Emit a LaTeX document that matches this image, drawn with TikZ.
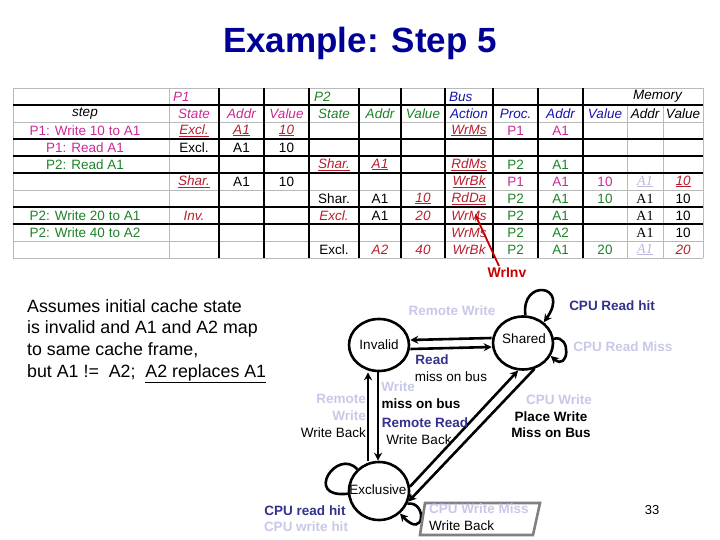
\documentclass[tikz,border=0pt]{standalone}
\usepackage{fontspec}
\setmainfont{Liberation Sans}
\newfontfamily\memserif{Liberation Serif}
\usetikzlibrary{arrows.meta,shapes.geometric}
\definecolor{titleblue}{RGB}{0,0,150}
\definecolor{pone}{RGB}{204,40,150}
\definecolor{ptwo}{RGB}{30,130,40}
\definecolor{busblue}{RGB}{20,20,170}
\definecolor{chgred}{RGB}{185,30,45}
\definecolor{lav}{RGB}{200,200,232}
\definecolor{navy}{RGB}{50,50,140}
\definecolor{fadeA}{RGB}{185,185,220}
\definecolor{arrred}{RGB}{200,0,0}
\newcommand{\tabfont}{\fontsize{13.5}{15}\selectfont}
\newcommand{\lblfont}{\fontsize{13.5}{16}\selectfont}
\newcommand{\tcell}[4][]{\node[tcell,#1] (t-#2-#3) at (cx#2 |- ry#3) {#4};}

\begin{document}
\begin{tikzpicture}[x=1pt,y=-1pt,
  tcell/.style={inner sep=0pt,font=\tabfont},
  hd/.style={font=\tabfont\itshape},
  chg/.style={text=chgred,font=\tabfont\itshape},
  mem/.style={font=\memserif\fontsize{14}{15}\selectfont},
  memfade/.style={text=fadeA,font=\memserif\fontsize{14}{15}\selectfont\itshape},
  gridgray/.style={gray!55,line width=0.9pt},
  gridblack/.style={black,line width=1.8pt},
  state/.style={ellipse,draw,line width=2.6pt,minimum width=60pt,inner sep=0pt,font=\lblfont},
  tarrow/.style={line width=2.6pt,-{Stealth[length=8pt,width=8pt]}},
  lav/.style={text=lav,font=\lblfont\bfseries,inner sep=0pt},
  navy/.style={text=navy,font=\lblfont\bfseries,inner sep=0pt},
  blk/.style={font=\lblfont,inner sep=0pt},
  blkb/.style={font=\lblfont\bfseries,inner sep=0pt}]
  \useasboundingbox (0,0) rectangle (720,540);

  \node[font=\fontsize{35}{40}\selectfont\bfseries,text=titleblue] (title) at (360,43) {Example: Step 5};

  % table grid
  \foreach \i/\x in {1/85,2/194,3/241.5,4/286.5,5/334,6/380,7/423,8/469,9/515.5,10/560.5,11/605,12/645,13/683}
    \coordinate (cx\i) at (\x,0);
  \foreach \j in {1,...,10}
    \coordinate (ry\j) at (0,{79.5+17*\j});
  \foreach \y in {88,122,190,241,258}
    \draw[gridgray] (13,\y) -- (703,\y);
  \foreach \x in {13,169,703}
    \draw[gridgray] (\x,88) -- (\x,258);
  \foreach \x in {627,663}
    \draw[gridgray] (\x,105) -- (\x,258);
  \foreach \y in {105,139,156,173,207,224}
    \draw[gridblack] (13,\y) -- (703,\y);
  \foreach \x in {219,264,309,359,401,445,493,538,583}
    \draw[gridblack] (\x,88) -- (\x,258);

  \node[hd,text=pone,anchor=west,inner sep=0pt] (h-p1) at (173,96.5) {P1};
  \node[hd,text=ptwo,anchor=west,inner sep=0pt] (h-p2) at (314,96.5) {P2};
  \node[hd,text=busblue,anchor=west,inner sep=0pt] (h-bus) at (449,96.5) {Bus};
  \node[hd,anchor=west,inner sep=0pt] (h-mem) at (633,96.5) {Memory};

  \tcell[hd]{1}{2}{step}
  \tcell[hd,text=pone]{2}{2}{State}
  \tcell[hd,text=pone]{3}{2}{Addr}
  \tcell[hd,text=pone]{4}{2}{Value}
  \tcell[hd,text=ptwo]{5}{2}{State}
  \tcell[hd,text=ptwo]{6}{2}{Addr}
  \tcell[hd,text=ptwo]{7}{2}{Value}
  \tcell[hd,text=busblue]{8}{2}{Action}
  \tcell[hd,text=busblue]{9}{2}{Proc.}
  \tcell[hd,text=busblue]{10}{2}{Addr}
  \tcell[hd,text=busblue]{11}{2}{Value}
  \tcell[hd]{12}{2}{Addr}
  \tcell[hd]{13}{2}{Value}

  \tcell[text=pone]{1}{3}{P1: Write 10 to A1}
  \tcell[chg]{2}{3}{\underline{Excl.}}
  \tcell[chg]{3}{3}{\underline{A1}}
  \tcell[chg]{4}{3}{\underline{10}}
  \tcell[chg]{8}{3}{\underline{WrMs}}
  \tcell[text=pone]{9}{3}{P1}
  \tcell[text=pone]{10}{3}{A1}

  \tcell[text=pone]{1}{4}{P1: Read A1}
  \tcell{2}{4}{Excl.}
  \tcell{3}{4}{A1}
  \tcell{4}{4}{10}

  \tcell[text=ptwo]{1}{5}{P2: Read A1}
  \tcell[chg]{5}{5}{\underline{Shar.}}
  \tcell[chg]{6}{5}{\underline{A1}}
  \tcell[chg]{8}{5}{\underline{RdMs}}
  \tcell[text=ptwo]{9}{5}{P2}
  \tcell[text=ptwo]{10}{5}{A1}

  \tcell[chg]{2}{6}{\underline{Shar.}}
  \tcell{3}{6}{A1}
  \tcell{4}{6}{10}
  \tcell[chg]{8}{6}{\underline{WrBk}}
  \tcell[text=pone]{9}{6}{P1}
  \tcell[text=pone]{10}{6}{A1}
  \tcell[text=pone]{11}{6}{10}
  \tcell[memfade]{12}{6}{\underline{A1}}
  \tcell[chg]{13}{6}{\underline{10}}

  \tcell{5}{7}{Shar.}
  \tcell{6}{7}{A1}
  \tcell[chg]{7}{7}{\underline{10}}
  \tcell[chg]{8}{7}{\underline{RdDa}}
  \tcell[text=ptwo]{9}{7}{P2}
  \tcell[text=ptwo]{10}{7}{A1}
  \tcell[text=ptwo]{11}{7}{10}
  \tcell[mem]{12}{7}{A1}
  \tcell{13}{7}{10}

  \tcell[text=ptwo]{1}{8}{P2: Write 20 to A1}
  \tcell[chg]{2}{8}{Inv.}
  \tcell[chg]{5}{8}{Excl.}
  \tcell{6}{8}{A1}
  \tcell[chg]{7}{8}{20}
  \tcell[chg]{8}{8}{WrMs}
  \tcell[text=ptwo]{9}{8}{P2}
  \tcell[text=ptwo]{10}{8}{A1}
  \tcell[mem]{12}{8}{A1}
  \tcell{13}{8}{10}

  \tcell[text=ptwo]{1}{9}{P2: Write 40 to A2}
  \tcell[chg]{8}{9}{WrMs}
  \tcell[text=ptwo]{9}{9}{P2}
  \tcell[text=ptwo]{10}{9}{A2}
  \tcell[mem]{12}{9}{A1}
  \tcell{13}{9}{10}

  \tcell{5}{10}{Excl.}
  \tcell[chg]{6}{10}{A2}
  \tcell[chg]{7}{10}{40}
  \tcell[chg]{8}{10}{WrBk}
  \tcell[text=ptwo]{9}{10}{P2}
  \tcell[text=ptwo]{10}{10}{A1}
  \tcell[text=ptwo]{11}{10}{20}
  \tcell[memfade]{12}{10}{\underline{A1}}
  \tcell[chg]{13}{10}{20}

  \node[font=\fontsize{14}{16}\selectfont\bfseries,text=arrred,inner sep=0pt] (wrinv) at (507,273) {WrInv};
  \coordinate (wrms) at (475,214);
  \draw[arrred,line width=1.8pt,-{Stealth[length=7pt]}] ([xshift=-8pt,yshift=2pt]wrinv.north) -- (wrms);

  \node[anchor=north west,align=left,inner sep=0pt,font=\fontsize{17.8}{21.7}\selectfont] (note) at (27,299)
    {Assumes initial cache state\\is invalid and A1 and A2 map\\to same cache frame,\\but A1 !=~~A2;~~\underline{A2 replaces A1}};

  % state diagram
  \node[state,minimum height=52pt] (inv) at (379,345) {Invalid};
  \node[state,minimum height=53pt] (shr) at (523,343) {};
  \node[font=\lblfont,inner sep=0pt] (shrtxt) at (524,339) {Shared};
  \node[state,minimum height=58pt] (exc) at (379,491) {};
  \node[font=\lblfont,inner sep=0pt] (exctxt) at (378,490) {Exclusive};

  \draw[tarrow] ([yshift=5pt]shr.west) -- ([yshift=5pt]inv.east);
  \draw[tarrow] ([yshift=-4pt]inv.east) -- ([yshift=-4pt]shr.west);
  \draw[tarrow] ([xshift=-11pt]exc.north) -- ([xshift=-11pt]inv.south);
  \draw[tarrow] ([xshift=-1pt]inv.south) -- ([xshift=-1pt]exc.north);
  \draw[tarrow] (exc.8) -- (shr.260);
  \draw[tarrow] (shr.294) -- (exc.-20);
  \draw[tarrow] (shr.85) .. controls +(-5,-37) and +(27,-38) .. (shr.45);
  \draw[tarrow] (shr.8) .. controls +(18,-4) and +(18,16) .. (shr.-25);
  \draw[line width=2.6pt] (exc.135) .. controls +(-20,-22) and +(-45,5) .. (exc.185);
  \draw[tarrow] (exc.-24) .. controls +(20,-3) and +(25,27) .. (exc.-47);

  \node[lav] (rw) at (452,311) {Remote Write};
  \node[navy] (crh) at (612,306) {CPU Read hit};
  \node[lav] (crm) at (623,347) {CPU Read Miss};
  \node[navy] (rd) at (432,360) {Read};
  \node[blk] (mob1) at (451,377) {miss on bus};
  \node[lav] (wr) at (398,387) {Write};
  \node[blkb] (mob2) at (421,404) {miss on bus};
  \node[navy] (rr) at (425,423) {Remote Read};
  \node[blk] (wb1) at (419,440) {Write Back};
  \node[lav,anchor=east] (rem) at (366,399) {Remote};
  \node[lav,anchor=east] (remw) at (366,416) {Write};
  \node[blk,anchor=east] (wb2) at (366,433) {Write Back};
  \node[lav] (cw) at (559,400) {CPU Write};
  \node[blkb] (pw) at (551,417) {Place Write};
  \node[blkb] (mb) at (551,433) {Miss on Bus};
  \node[navy] (crdh) at (305,511) {CPU read hit};
  \node[lav] (cwh) at (306,527) {CPU write hit};

  \draw[gray,line width=2.6pt] (425,503) -- (540,503) -- (533,535) -- (420,535) -- cycle;
  \node[lav,anchor=west] (cwm) at (429,509) {CPU Write Miss};
  \node[blk,anchor=west] (wb3) at (429,526) {Write Back};

  \node[font=\fontsize{13}{15}\selectfont] (pg) at (652,510) {33};
\end{tikzpicture}
\end{document}
